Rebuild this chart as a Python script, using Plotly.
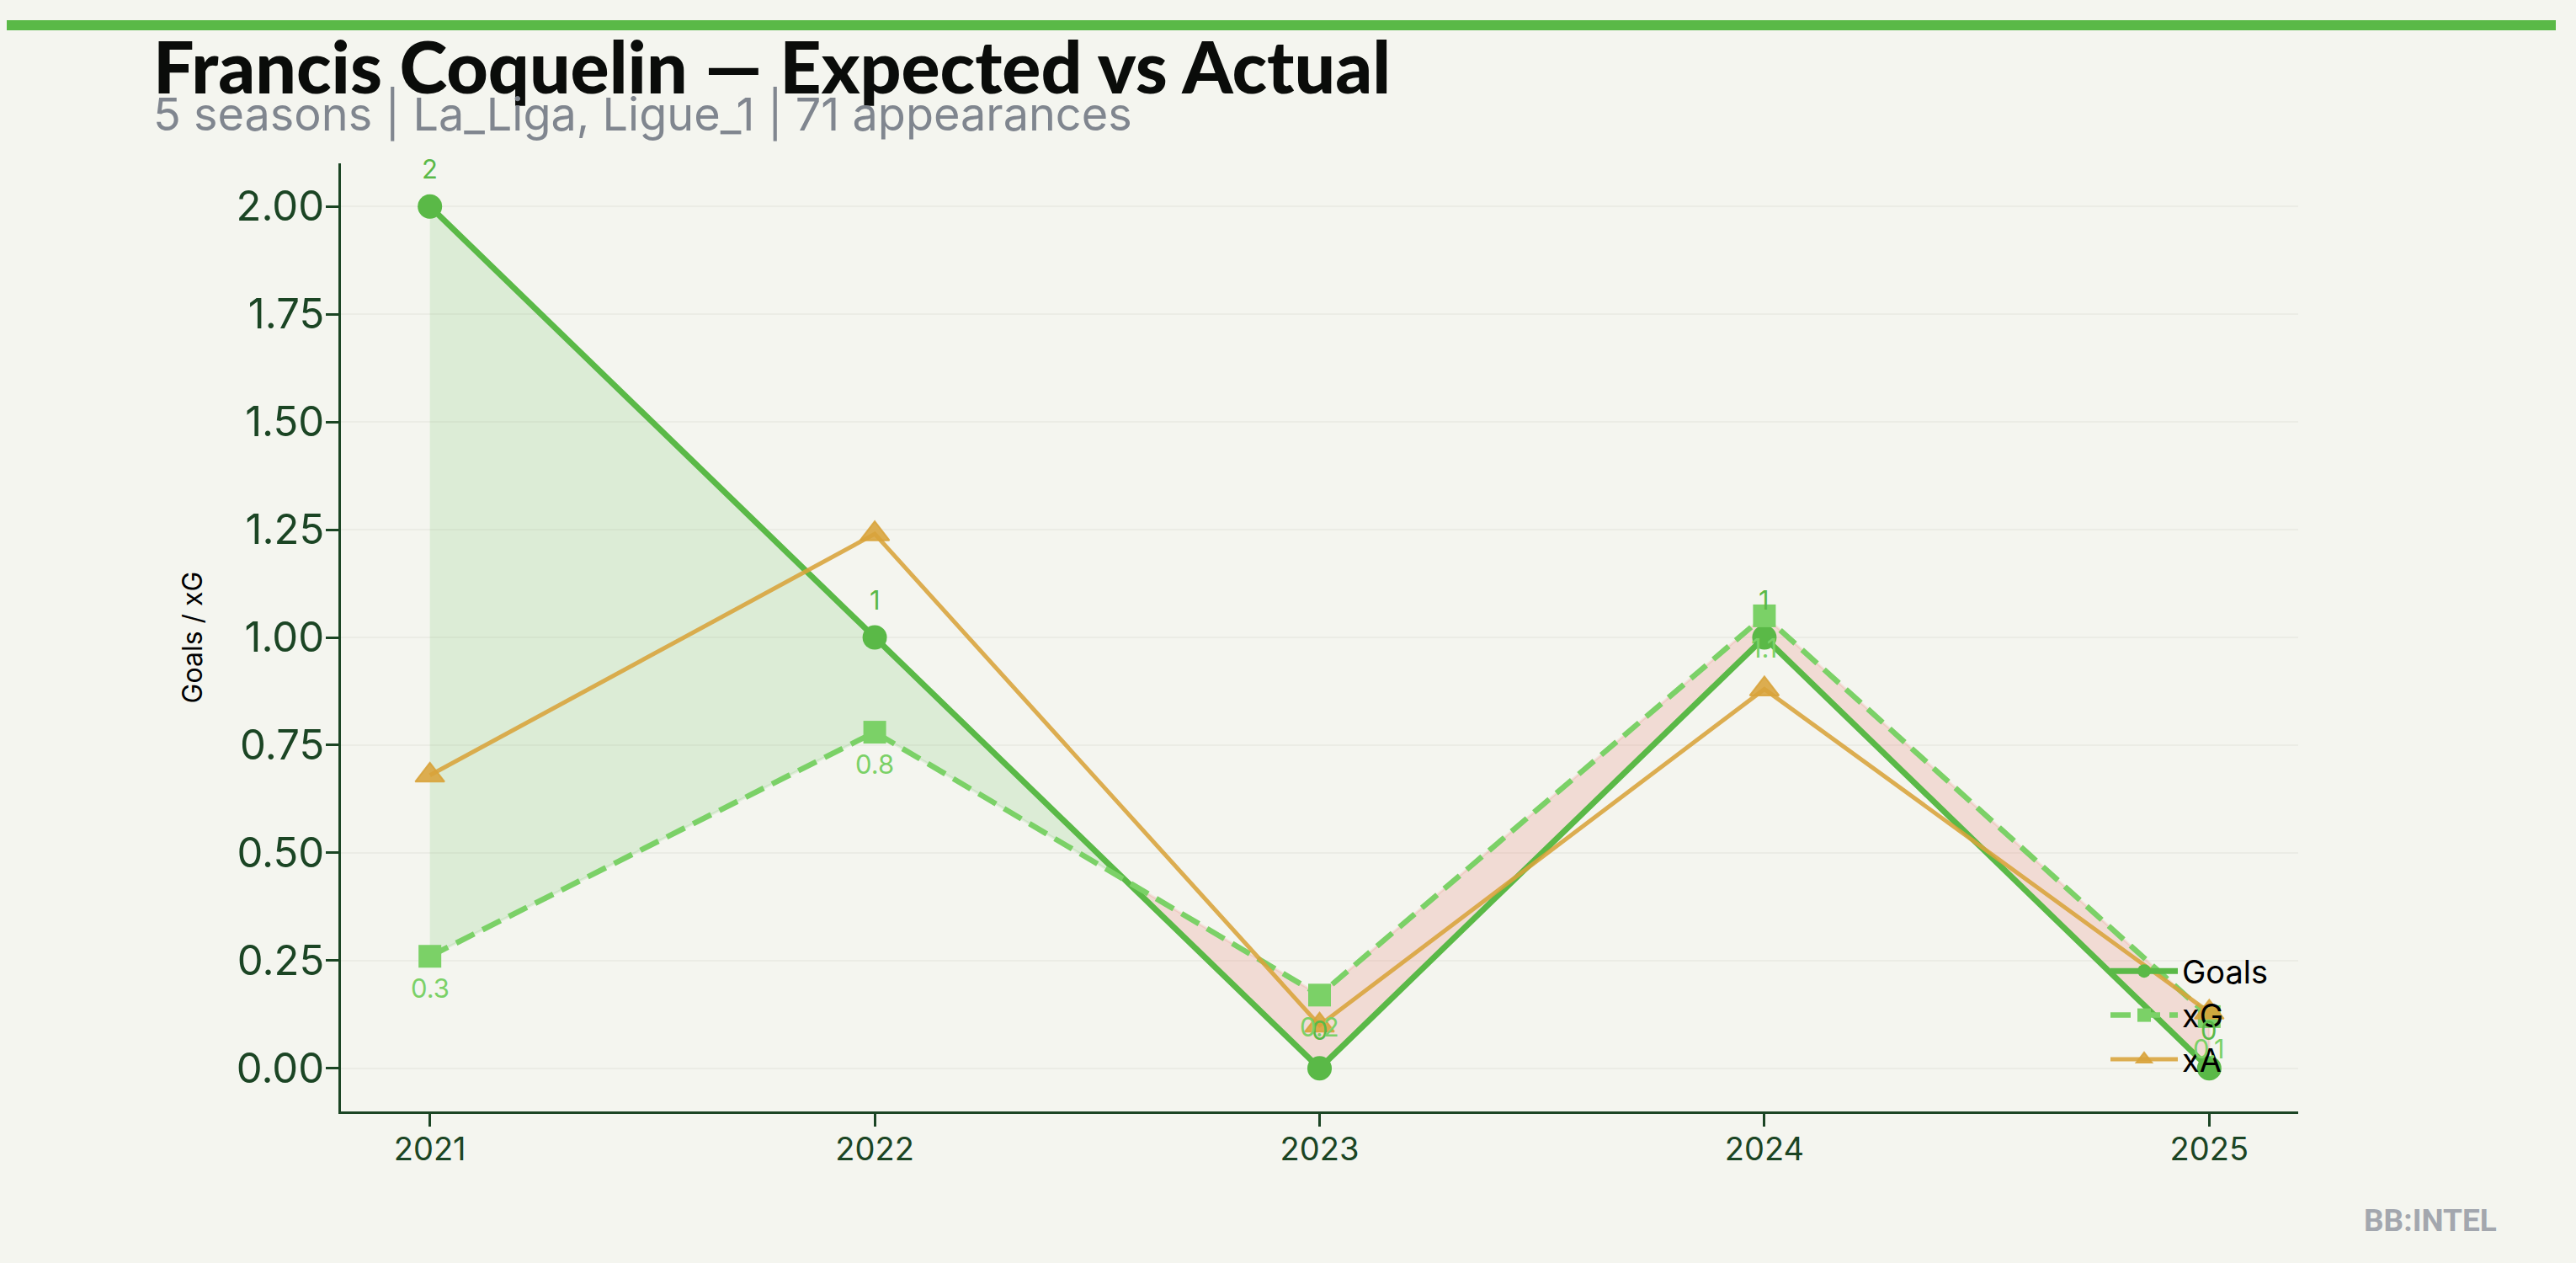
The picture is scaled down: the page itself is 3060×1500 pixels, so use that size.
import plotly.graph_objects as go

# ---- data ----
seasons = [2021, 2022, 2023, 2024, 2025]
goals = [2, 1, 0, 1, 0]
xg = [0.26, 0.78, 0.17, 1.05, 0.12]
xa = [0.68, 1.24, 0.10, 0.88, 0.13]
goal_labels = ["2", "1", "0", "1", "0"]
xg_labels = ["0.3", "0.8", "0.2", "1.1", "0.1"]
y_ticks = [0.0, 0.25, 0.5, 0.75, 1.0, 1.25, 1.5, 1.75, 2.0]

title_text = "Francis Coquelin — Expected vs Actual"
subtitle_text = "5 seasons | La_Liga, Ligue_1 | 71 appearances"

BG = "#f4f5ef"
C_GOALS = "#5ab947"
C_XG = "#7bd167"
C_XA = "rgba(216,163,58,0.88)"
AXC = "#1b4524"

W, H = 3060, 1500
L, R, T, B = 405, 3060 - 2730, 194, 1500 - 1320
PW, PH = W - L - R, H - T - B


def px_x(p):
    return (p - L) / PW


def px_y(p):
    return (H - B - p) / PH


# ---- fill regions between goals and xG (with crossing points) ----
xs, ga, gb = [seasons[0]], [goals[0]], [xg[0]]
for i in range(len(seasons) - 1):
    d0 = goals[i] - xg[i]
    d1 = goals[i + 1] - xg[i + 1]
    if d0 * d1 < 0:
        t = d0 / (d0 - d1)
        xc = seasons[i] + t * (seasons[i + 1] - seasons[i])
        yc = goals[i] + t * (goals[i + 1] - goals[i])
        xs.append(xc); ga.append(yc); gb.append(yc)
    xs.append(seasons[i + 1]); ga.append(goals[i + 1]); gb.append(xg[i + 1])


def runs(cond):
    out, cur = [], []
    for k in range(len(xs)):
        if cond(ga[k] - gb[k]):
            cur.append(k)
        else:
            if len(cur) > 1:
                out.append(cur)
            cur = []
    if len(cur) > 1:
        out.append(cur)
    return out


fig = go.Figure()

for cond, fc, lc in [
    (lambda d: d >= 0, "rgba(90,185,71,0.15)", "rgba(90,185,71,0.12)"),
    (lambda d: d <= 0, "rgba(231,90,75,0.16)", "rgba(231,90,75,0.12)"),
]:
    for run in runs(cond):
        px = [xs[k] for k in run] + [xs[k] for k in reversed(run)]
        py = [ga[k] for k in run] + [gb[k] for k in reversed(run)]
        fig.add_trace(go.Scatter(x=px, y=py, mode="lines", fill="toself",
                                 fillcolor=fc, line=dict(color=lc, width=3),
                                 showlegend=False, hoverinfo="skip"))

fig.add_trace(go.Scatter(x=seasons, y=goals, mode="lines+markers", name="Goals",
                         line=dict(color=C_GOALS, width=7),
                         marker=dict(symbol="circle", size=29, color=C_GOALS)))
fig.add_trace(go.Scatter(x=seasons, y=xg, mode="lines+markers", name="xG",
                         line=dict(color=C_XG, width=6.5, dash="24px,11px"),
                         marker=dict(symbol="square", size=27, color=C_XG)))
fig.add_trace(go.Scatter(x=seasons, y=xa, mode="lines+markers", name="xA",
                         line=dict(color=C_XA, width=5),
                         marker=dict(symbol="triangle-up", size=30, color=C_XA,
                                     line=dict(color=C_XA, width=2))))

ann = []
for s, g, lab in zip(seasons, goals, goal_labels):
    ann.append(dict(x=s, y=g, xref="x", yref="y", text=lab, showarrow=False,
                    yshift=45, font=dict(family="Inter", size=31, color=C_GOALS)))
for s, v, lab in zip(seasons, xg, xg_labels):
    ann.append(dict(x=s, y=v, xref="x", yref="y", text=lab, showarrow=False,
                    yshift=-38, font=dict(family="Inter", size=31, color=C_XG)))

ann.append(dict(x=px_x(180), y=px_y(77), xref="paper", yref="paper",
                xanchor="left", yanchor="middle", showarrow=False, text=title_text,
                font=dict(family="Lato", size=86, color="#0a0c0a", weight=900)))
ann.append(dict(x=px_x(180), y=px_y(136), xref="paper", yref="paper",
                xanchor="left", yanchor="middle", showarrow=False, text=subtitle_text,
                font=dict(family="Inter", size=54, color="#80868f")))
ann.append(dict(x=px_x(2968), y=px_y(1449), xref="paper", yref="paper",
                xanchor="right", yanchor="middle", showarrow=False, text="BB:INTEL",
                font=dict(family="Roboto", size=37, color="#a3a7ae", weight=700)))

fig.update_layout(
    width=W, height=H,
    margin=dict(l=L, r=R, t=T, b=B, pad=0),
    paper_bgcolor=BG, plot_bgcolor=BG,
    annotations=ann,
    shapes=[dict(type="rect", xref="paper", yref="paper",
                 x0=px_x(8), x1=px_x(3036), y0=px_y(36), y1=px_y(24),
                 fillcolor=C_GOALS, line=dict(width=0), layer="above")],
    showlegend=True,
    legend=dict(x=px_x(2700), y=px_y(1290), xanchor="right", yanchor="bottom",
                bgcolor="rgba(0,0,0,0)", borderwidth=0, itemwidth=80,
                font=dict(family="Inter", size=38, color="#000000"),
                tracegroupgap=0),
    xaxis=dict(range=[2020.8, 2025.2], tickmode="array", tickvals=seasons,
               ticktext=[str(s) for s in seasons], showgrid=False, zeroline=False,
               showline=True, linecolor=AXC, linewidth=3, ticks="outside",
               ticklen=15, tickwidth=3, tickcolor=AXC, ticklabelstandoff=-6,
               tickfont=dict(family="Inter", size=38, color=AXC)),
    yaxis=dict(range=[-0.1, 2.1], tickmode="array", tickvals=y_ticks,
               ticktext=[f"{v:.2f}" for v in y_ticks], showgrid=True,
               gridcolor="#ebece5", gridwidth=2, zeroline=False,
               showline=True, linecolor=AXC, linewidth=3, ticks="outside",
               ticklen=15, tickwidth=3, tickcolor=AXC, ticklabelstandoff=-8,
               tickfont=dict(family="Inter", size=49, color=AXC),
               title=dict(text="Goals / xG", standoff=31,
                          font=dict(family="Inter", size=32, color="#000000"))),
)

fig.write_html("out.html", config={"displayModeBar": False},
               post_script="document.body.style.margin='0';document.body.style.overflow='hidden';")
